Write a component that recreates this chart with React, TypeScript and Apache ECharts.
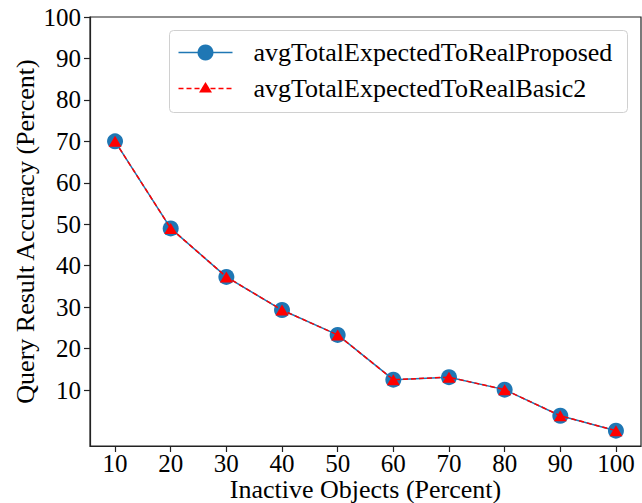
import React, { useEffect, useRef } from "react";
import * as echarts from "echarts";

const xValues = [10, 20, 30, 40, 50, 60, 70, 80, 90, 100];
const proposed = [70.0, 49.0, 37.3, 29.3, 23.3, 12.5, 13.1, 10.1, 3.8, 0.2];
const basic2 = [70.0, 49.0, 37.3, 29.3, 23.3, 12.5, 13.1, 10.1, 3.8, 0.2];
const xTicks = [10, 20, 30, 40, 50, 60, 70, 80, 90, 100];
const yTicks = [10, 20, 30, 40, 50, 60, 70, 80, 90, 100];
const seriesNames = ["avgTotalExpectedToRealProposed", "avgTotalExpectedToRealBasic2"];

const FONT = "'Liberation Serif', 'Times New Roman', serif";
const BLUE = "#1f77b4";
const RED = "#ff0000";

export default function App() {
  const ref = useRef<HTMLDivElement>(null);
  useEffect(() => {
    if (!ref.current) return;
    const chart = echarts.init(ref.current, undefined, { renderer: "svg" });
    const lx = 169, ly = 30;
    chart.setOption({
      animation: false,
      backgroundColor: "#fff",
      textStyle: { fontFamily: FONT },
      grid: {
        left: 90, right: 1, top: 17, bottom: 57,
        outerBoundsMode: "none",
        containLabel: false,
        show: true, borderColor: "#222", borderWidth: 1.2, backgroundColor: "transparent",
      },
      xAxis: {
        type: "value",
        min: 5.5, max: 104.5,
        name: "Inactive Objects (Percent)",
        nameLocation: "middle",
        nameGap: 30,
        nameMoveOverlap: false,
        nameTextStyle: { fontFamily: FONT, fontSize: 26, color: "#000", verticalAlign: "top" },
        axisLine: { show: true, onZero: false, lineStyle: { color: "#222", width: 1.2 } },
        axisTick: { show: true, customValues: xTicks, length: 6, inside: false, lineStyle: { color: "#222", width: 1.2 } },
        axisLabel: { customValues: xTicks, fontFamily: FONT, fontSize: 25, color: "#000", margin: 5 },
        splitLine: { show: false },
      },
      yAxis: {
        type: "value",
        min: -3.5, max: 100,
        name: "Query Result Accuracy (Percent)",
        nameLocation: "middle",
        nameGap: 52,
        nameMoveOverlap: false,
        nameTextStyle: { fontFamily: FONT, fontSize: 26, color: "#000" },
        axisLine: { show: true, onZero: false, lineStyle: { color: "#222", width: 1.2 } },
        axisTick: { show: true, customValues: yTicks, length: 6, inside: false, lineStyle: { color: "#222", width: 1.2 } },
        axisLabel: { customValues: yTicks, fontFamily: FONT, fontSize: 25, color: "#000", margin: 9 },
        splitLine: { show: false },
      },
      series: [
        {
          name: seriesNames[0],
          type: "line",
          data: xValues.map((x, i) => [x, proposed[i]]),
          symbol: "circle",
          symbolSize: 16,
          itemStyle: { color: BLUE },
          lineStyle: { color: BLUE, width: 1.5 },
          z: 2,
        },
        {
          name: seriesNames[1],
          type: "line",
          data: xValues.map((x, i) => [x, basic2[i]]),
          symbol: "triangle",
          symbolSize: [13, 11],
          itemStyle: { color: RED },
          lineStyle: { color: RED, width: 1.5, type: [5, 3] },
          z: 3,
        },
      ],
      graphic: [
        {
          type: "group",
          left: lx, top: ly,
          children: [
            { type: "rect", shape: { x: 0, y: 0, width: 458, height: 82, r: 4 }, style: { fill: "rgba(255,255,255,0.8)", stroke: "#d0d0d0", lineWidth: 1 } },
            { type: "line", shape: { x1: 9, y1: 22, x2: 63, y2: 22 }, style: { stroke: BLUE, lineWidth: 1.5 } },
            { type: "circle", shape: { cx: 36, cy: 22, r: 8 }, style: { fill: BLUE } },
            { type: "text", x: 84, y: 22, style: { text: seriesNames[0], font: `26px ${FONT}`, fill: "#000", verticalAlign: "middle" } },
            { type: "line", shape: { x1: 9, y1: 58, x2: 63, y2: 58 }, style: { stroke: RED, lineWidth: 1.5, lineDash: [5, 3] } },
            { type: "polygon", shape: { points: [[36, 51.5], [29.5, 62], [42.5, 62]] }, style: { fill: RED } },
            { type: "text", x: 84, y: 58, style: { text: seriesNames[1], font: `26px ${FONT}`, fill: "#000", verticalAlign: "middle" } },
          ],
        },
      ],
    });
    return () => chart.dispose();
  }, []);
  return <div ref={ref} style={{ width: 642, height: 503, position: "absolute", left: 0, top: 0 }} />;
}
